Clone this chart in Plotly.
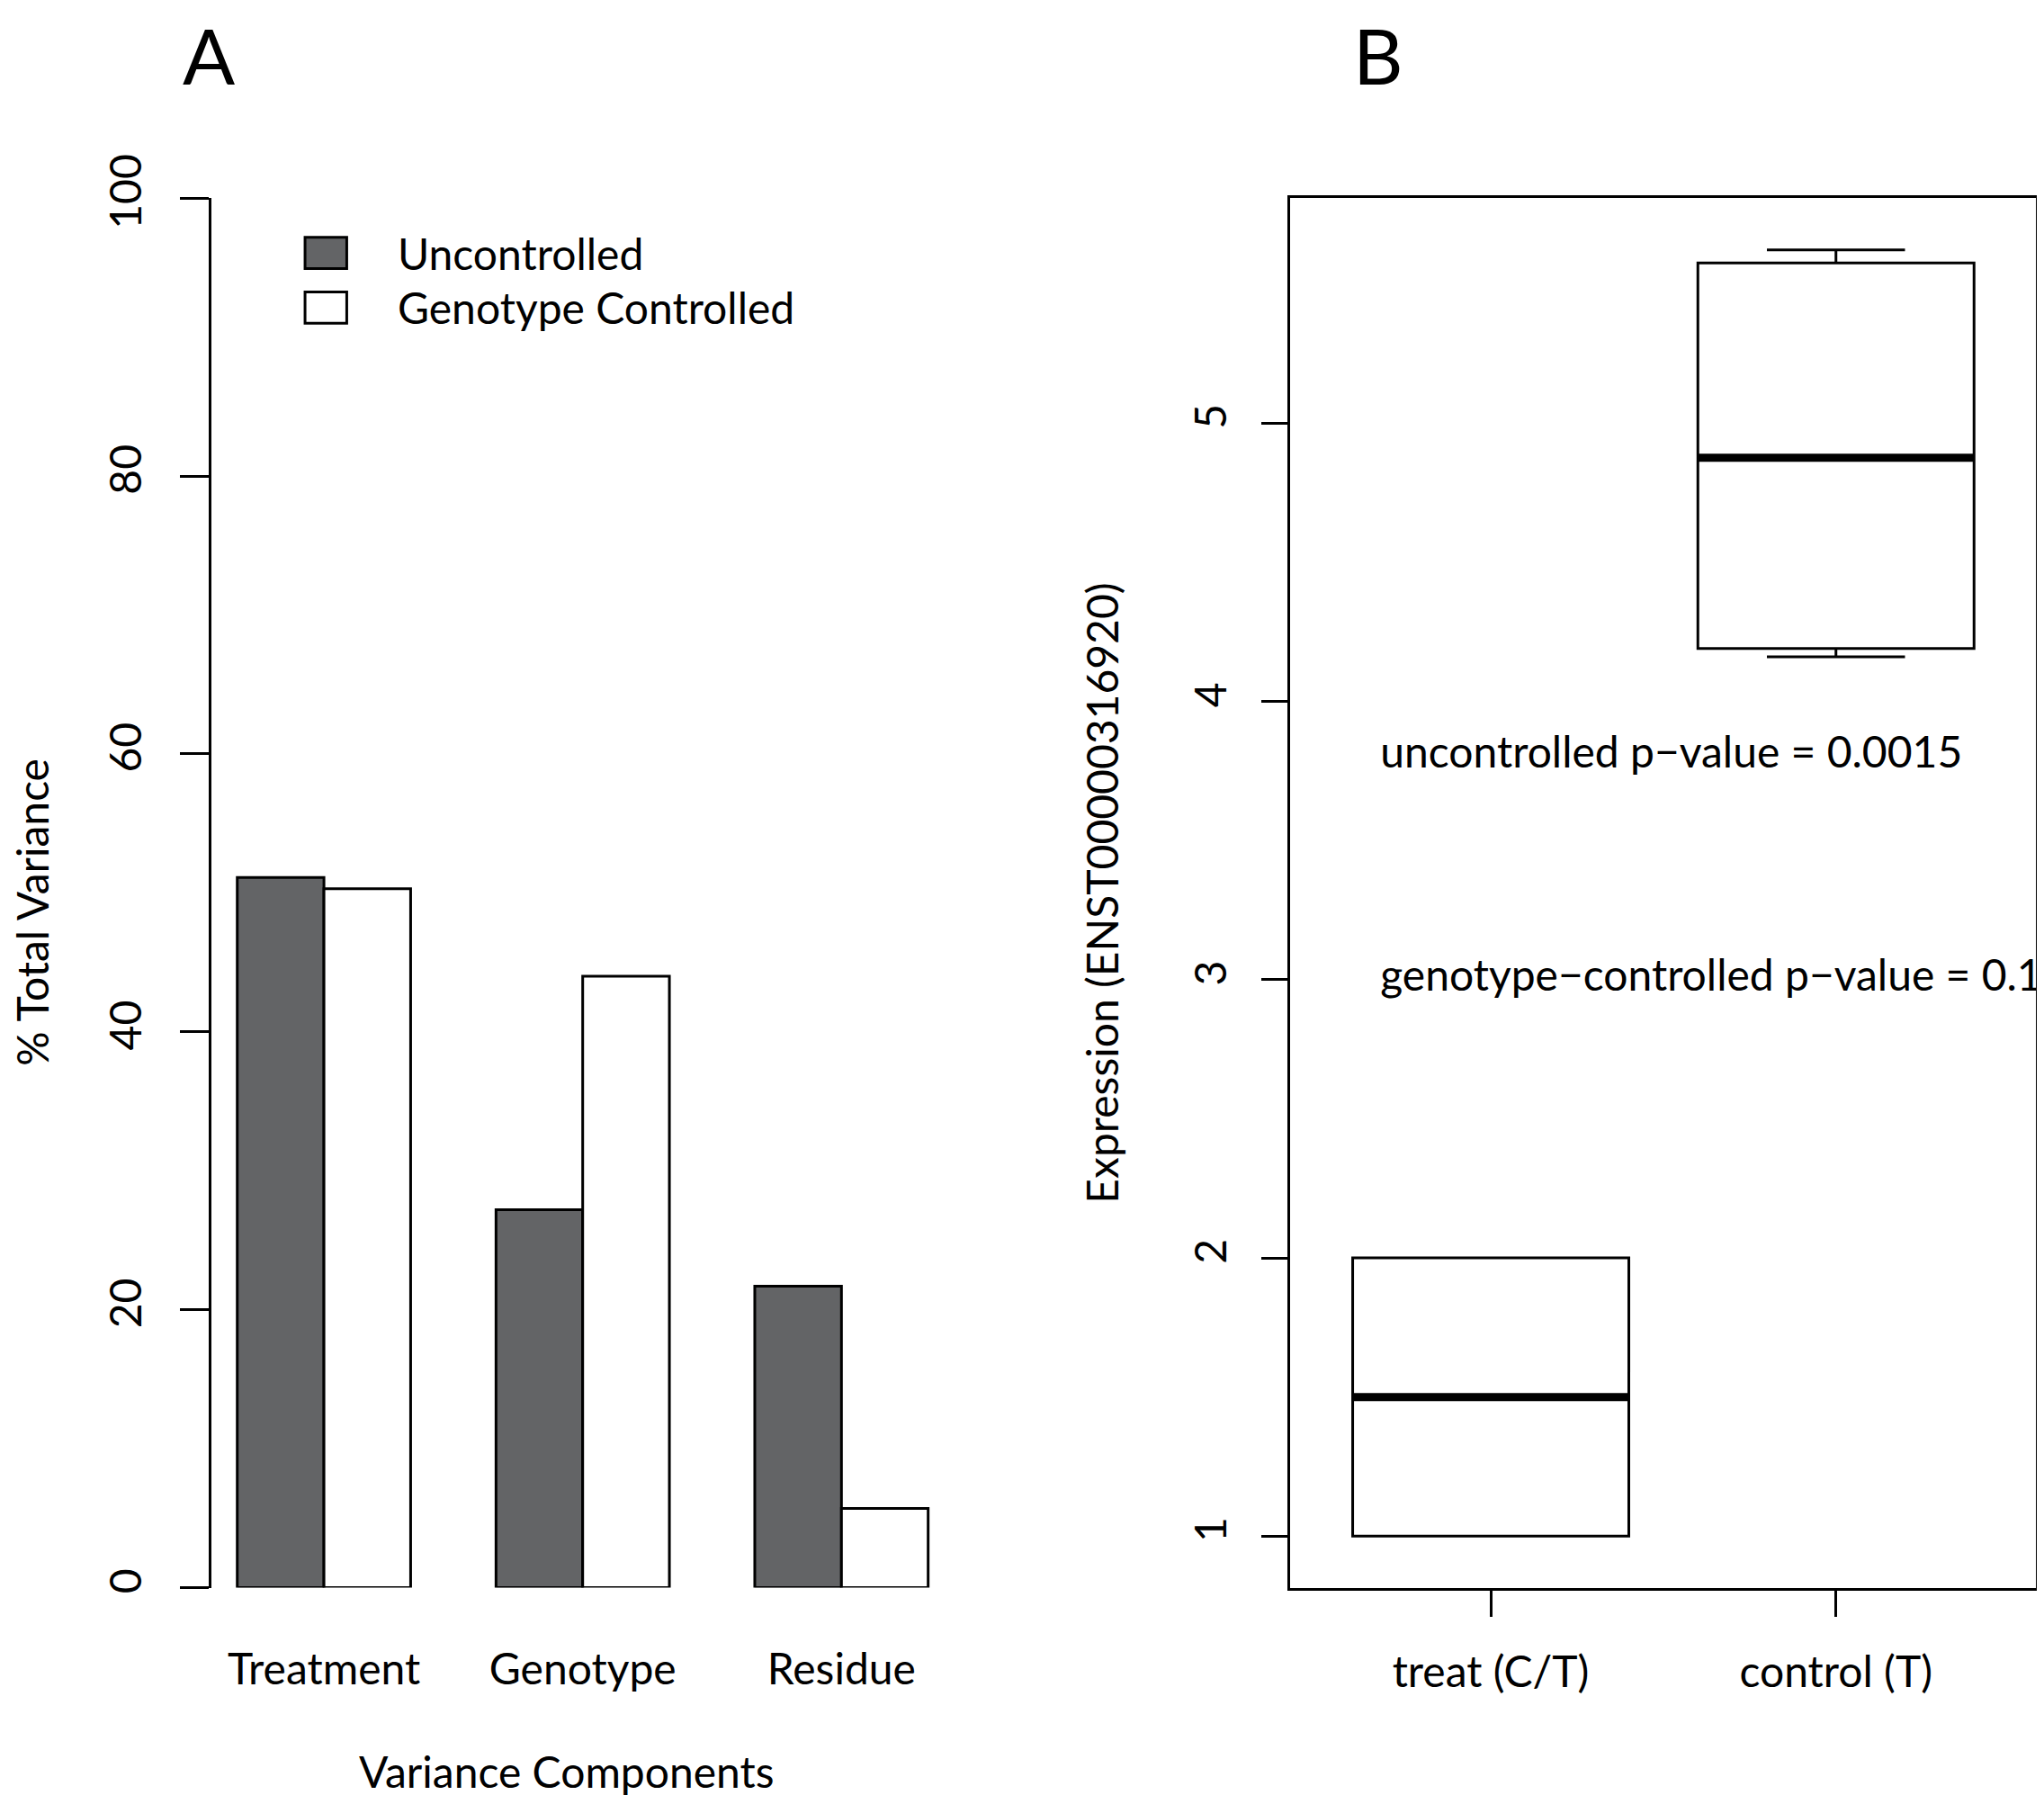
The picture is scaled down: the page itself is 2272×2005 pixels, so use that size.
import plotly.graph_objects as go

# panel A: variance components (% of total variance)
components = ["Treatment", "Genotype", "Residue"]
uncontrolled = [51.1, 27.2, 21.7]
genotype_controlled = [50.3, 44.0, 5.7]

# panel B: expression boxplot summary
groups = ["treat (C/T)", "control (T)"]
group_pos = [1, 2]
q1 = [1.0, 4.19]
median = [1.5, 4.875]
q3 = [2.0, 5.575]
lower = [1.0, 4.16]
upper = [2.0, 5.622]

p_labels = ["uncontrolled p\u2212value = 0.0015", "genotype\u2212controlled p\u2212value = 0.1"]
p_x = [0.68, 0.68]
p_y = [3.8, 3.0]

W, H = 2272, 2005
OFF = 8                      # page body margin
FW, FH = W - 2 * OFF, H - 2 * OFF
FONT = "Lato"
FS = 48
BOXW = 0.8


# layout positions were measured on a 1568x1384 grid of the page
def px(x):
    return (x * W / 1568 - OFF) / FW


def py(y):
    return 1 - (y * H / 1384 - OFF) / FH


fig = go.Figure()

fig.add_trace(go.Bar(x=components, y=uncontrolled, name="Uncontrolled",
                     marker=dict(color="#636466", line=dict(color="black", width=3)),
                     xaxis="x", yaxis="y", showlegend=False))
fig.add_trace(go.Bar(x=components, y=genotype_controlled, name="Genotype Controlled",
                     marker=dict(color="white", line=dict(color="black", width=3)),
                     xaxis="x", yaxis="y", showlegend=False))

for i in range(len(groups)):
    fig.add_trace(go.Box(x=[group_pos[i]], q1=[q1[i]], median=[median[i]], q3=[q3[i]],
                         lowerfence=[lower[i]], upperfence=[upper[i]],
                         width=BOXW, whiskerwidth=0.5, fillcolor="white",
                         line=dict(color="black", width=3),
                         xaxis="x2", yaxis="y2", showlegend=False, name=groups[i]))
    # thick median line, as in R boxplots
    fig.add_trace(go.Scatter(x=[group_pos[i] - BOXW / 2, group_pos[i] + BOXW / 2],
                             y=[median[i], median[i]], mode="lines",
                             line=dict(color="black", width=9),
                             xaxis="x2", yaxis="y2", showlegend=False))

fig.add_trace(go.Scatter(x=p_x, y=p_y, mode="text", text=p_labels,
                         textposition="middle right", cliponaxis=True,
                         textfont=dict(family=FONT, size=FS, color="black"),
                         xaxis="x2", yaxis="y2", showlegend=False))

fig.update_layout(
    width=FW, height=FH,
    margin=dict(l=0, r=0, t=0, b=0, autoexpand=False),
    showlegend=False,
    paper_bgcolor="white", plot_bgcolor="white",
    font=dict(family=FONT, size=FS, color="black"),
    barmode="group", bargap=0.33, bargroupgap=0,
    xaxis=dict(domain=[px(162), px(744.75)], range=[-0.4358, 2.5], automargin=False,
               showline=False, showgrid=False, zeroline=False,
               ticks="", ticklabelstandoff=58),
    yaxis=dict(domain=[py(1218), py(152)], range=[0, 100], automargin=False,
               tickvals=[0, 20, 40, 60, 80, 100], tickangle=-90,
               showline=True, linecolor="black", linewidth=3,
               ticks="outside", ticklen=32, tickwidth=3, tickcolor="black",
               showgrid=False, zeroline=False, ticklabelstandoff=24),
    xaxis2=dict(domain=[px(990), px(1562)], range=[0.42, 2.58], anchor="y2",
                automargin=False, tickvals=group_pos, ticktext=groups,
                showline=True, mirror=True, linecolor="black", linewidth=3,
                ticks="outside", ticklen=29, tickwidth=3, tickcolor="black",
                showgrid=False, zeroline=False, ticklabelstandoff=21),
    yaxis2=dict(domain=[py(1218), py(152)], range=[0.815, 5.808], anchor="x2",
                automargin=False, tickvals=[1, 2, 3, 4, 5], tickangle=-90,
                showline=True, mirror=True, linecolor="black", linewidth=3,
                ticks="outside", ticklen=29, tickwidth=3, tickcolor="black",
                showgrid=False, zeroline=False, ticklabelstandoff=20),
)

# legend for panel A
legend_items = [("Uncontrolled", "#636466", 194), ("Genotype Controlled", "white", 236)]
for label, color, yc in legend_items:
    fig.add_shape(type="rect", xref="paper", yref="paper",
                  x0=px(234), x1=px(266), y0=py(yc + 12), y1=py(yc - 12),
                  fillcolor=color, line=dict(color="black", width=3))
    fig.add_annotation(text=label, xref="paper", yref="paper", x=px(304), y=py(yc),
                       xanchor="left", yanchor="middle", showarrow=False,
                       font=dict(size=FS))

# panel letters, pinned to the top edge
for letter, x in [("A", 160), ("B", 1057)]:
    fig.add_annotation(text=letter, xref="paper", yref="paper", x=px(x), y=1,
                       xanchor="center", yanchor="top", showarrow=False,
                       borderpad=0, font=dict(size=86))

# axis titles
annos = [
    ("Variance Components", 435, 1359, 0),
    ("% Total Variance", 24, 700, -90),
    ("Expression (ENST00000316920)", 845, 685, -90),
]
for text, x, y, ang in annos:
    fig.add_annotation(text=text, xref="paper", yref="paper", x=px(x), y=py(y),
                       xanchor="center", yanchor="middle", showarrow=False,
                       textangle=ang, borderpad=0, font=dict(size=FS))

fig.write_html("out.html")
